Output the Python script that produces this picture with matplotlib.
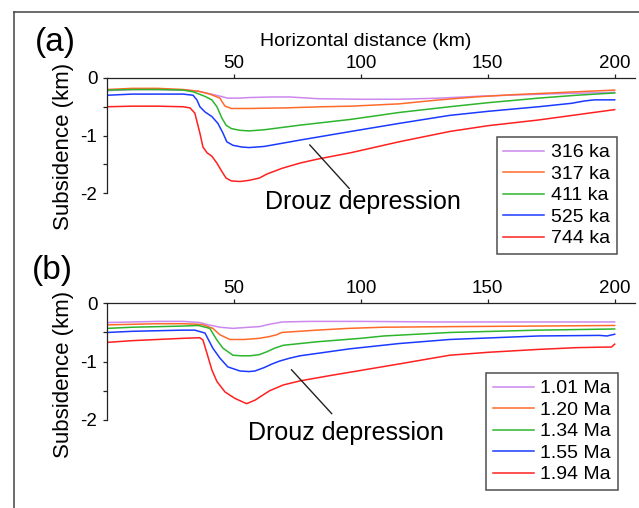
import matplotlib
matplotlib.use("Agg")
import matplotlib.pyplot as plt
from matplotlib.lines import Line2D

plt.rcParams["font.family"] = ["Liberation Sans", "DejaVu Sans"]

# ---- panel (a): subsidence profiles (km) ----
labels_a = ["316 ka", "317 ka", "411 ka", "525 ka", "744 ka"]

a316_x = [0, 10, 20, 30, 36, 40, 44, 47.5, 52, 56, 65, 72, 83, 100, 115, 131, 150, 165, 180, 200]
a316_y = [-0.22, -0.2, -0.2, -0.21, -0.23, -0.27, -0.31, -0.35, -0.35, -0.34, -0.33, -0.33, -0.36, -0.37,
          -0.37, -0.35, -0.31, -0.29, -0.27, -0.25]

a317_x = [0, 10, 20, 30, 36, 40.5, 44.5, 45.3, 46.5, 49, 56, 70, 85, 96, 115, 131, 145, 160, 175, 190, 200]
a317_y = [-0.2, -0.18, -0.18, -0.2, -0.23, -0.28, -0.35, -0.41, -0.49, -0.53, -0.53, -0.52, -0.5, -0.49,
          -0.45, -0.38, -0.33, -0.29, -0.26, -0.23, -0.21]

a411_x = [0, 10, 20, 30, 34, 38.6, 41.3, 43.3, 45.3, 46.9, 49, 52.4, 56, 62, 76, 96, 115, 135, 150, 170,
          185, 200]
a411_y = [-0.21, -0.2, -0.2, -0.21, -0.24, -0.32, -0.38, -0.5, -0.7, -0.82, -0.88, -0.91, -0.92, -0.9,
          -0.82, -0.72, -0.6, -0.5, -0.43, -0.35, -0.3, -0.26]

a525_x = [0, 10, 20, 30, 33.9, 35.4, 36.6, 38.6, 41.3, 43.7, 45.7, 47.2, 49.6, 53, 56, 62, 76, 96, 115,
          135, 150, 170, 183, 188, 192, 200]
a525_y = [-0.3, -0.28, -0.28, -0.28, -0.3, -0.38, -0.5, -0.59, -0.67, -0.79, -0.96, -1.11, -1.17, -1.2,
          -1.21, -1.19, -1.08, -0.93, -0.79, -0.65, -0.58, -0.5, -0.44, -0.4, -0.38, -0.38]

a744_x = [0, 10, 20, 30, 32.7, 34.6, 36.6, 37.8, 39.4, 41.3, 43.3, 45.3, 46.9, 49, 52.4, 56, 60, 63, 69,
          76, 83, 96, 115, 135, 150, 170, 190, 200]
a744_y = [-0.5, -0.49, -0.49, -0.5, -0.52, -0.61, -0.96, -1.2, -1.3, -1.36, -1.48, -1.63, -1.74, -1.79,
          -1.8, -1.78, -1.74, -1.67, -1.57, -1.48, -1.41, -1.3, -1.11, -0.93, -0.83, -0.73, -0.61, -0.55]

# ---- panel (b) ----
labels_b = ["1.01 Ma", "1.20 Ma", "1.34 Ma", "1.55 Ma", "1.94 Ma"]

b101_x = [0, 10, 20, 30, 36.6, 40, 44.5, 49.6, 56, 60, 64, 69, 80, 100, 130, 160, 200]
b101_y = [-0.33, -0.32, -0.31, -0.31, -0.33, -0.37, -0.41, -0.43, -0.41, -0.4, -0.36, -0.32, -0.31,
          -0.31, -0.32, -0.32, -0.32]

b120_x = [0, 10, 20, 30, 36, 38, 41.7, 44.5, 48.4, 54, 60, 64, 66.8, 68.8, 82.6, 95, 108.8, 135, 170, 200]
b120_y = [-0.37, -0.36, -0.35, -0.35, -0.36, -0.37, -0.43, -0.54, -0.62, -0.62, -0.6, -0.57, -0.54, -0.5,
          -0.46, -0.43, -0.41, -0.4, -0.39, -0.38]

b134_x = [0, 10, 20, 30, 36, 40.5, 43.3, 45.7, 49.6, 53, 56.3, 60, 63, 66, 69.4, 76, 82.6, 100, 109,
          135, 170, 200]
b134_y = [-0.43, -0.41, -0.4, -0.39, -0.38, -0.43, -0.63, -0.77, -0.89, -0.9, -0.9, -0.88, -0.83, -0.77,
          -0.72, -0.69, -0.66, -0.6, -0.56, -0.5, -0.46, -0.44]

b155_x = [0, 10, 20, 30, 34.6, 38.6, 41.7, 44.5, 47.6, 52.4, 56, 58.3, 62, 65, 68, 72, 76, 95.7, 115,
          135, 170, 194, 197, 200]
b155_y = [-0.5, -0.48, -0.47, -0.46, -0.46, -0.51, -0.77, -0.94, -1.09, -1.16, -1.17, -1.16, -1.1, -1.04,
          -0.99, -0.94, -0.9, -0.78, -0.69, -0.62, -0.56, -0.55, -0.56, -0.53]

b194_x = [0, 10, 20, 30, 36.6, 37.8, 39.4, 41.3, 43.3, 46.5, 50.4, 55, 58.3, 61.5, 64, 69.4, 76, 89, 100,
          115, 135, 150, 170, 185, 196.7, 198.7, 200]
b194_y = [-0.67, -0.64, -0.62, -0.6, -0.59, -0.63, -0.86, -1.14, -1.34, -1.52, -1.63, -1.72, -1.66, -1.57,
          -1.5, -1.4, -1.33, -1.23, -1.15, -1.04, -0.89, -0.84, -0.79, -0.76, -0.75, -0.75, -0.7]

colors = ["#cc88ee", "#ff6a2a", "#2db52d", "#1a3aff", "#ff2020"]

W, H = 639, 508
fig = plt.figure(figsize=(W / 100, H / 100), dpi=100)


def px_axes(left, top, right, bottom):
    return fig.add_axes([left / W, 1 - bottom / H, (right - left) / W, (bottom - top) / H])


def style_axes(ax):
    ax.set_xlim(0, 208)
    ax.set_ylim(-2, 0)
    ax.spines["bottom"].set_visible(False)
    ax.spines["right"].set_visible(False)
    for s in ("top", "left"):
        ax.spines[s].set_linewidth(0.9)
        ax.spines[s].set_color("#222222")
    ax.xaxis.tick_top()
    ax.set_xticks([50, 100, 150, 200])
    ax.set_xticklabels(["50", "100", "150", "200"])
    ax.set_yticks([0, -0.5, -1, -1.5, -2])
    ax.set_yticklabels(["0", "", "-1", "", "-2"])
    ax.tick_params(axis="x", direction="out", length=3, width=0.9, labelsize=13.5, pad=1.5,
                   color="#222222")
    ax.tick_params(axis="y", direction="out", length=3, width=0.9, labelsize=13.5, pad=4,
                   color="#222222")
    ax.patch.set_alpha(0)


ax_a = px_axes(107, 78, 635, 193)
style_axes(ax_a)
series_a = [(a316_x, a316_y), (a317_x, a317_y), (a411_x, a411_y), (a525_x, a525_y), (a744_x, a744_y)]
for (xs, ys), c, lab in zip(series_a, colors, labels_a):
    ax_a.plot(xs, ys, color=c, lw=1.1, label=lab)

ax_b = px_axes(107, 303.3, 635, 420)
style_axes(ax_b)
series_b = [(b101_x, b101_y), (b120_x, b120_y), (b134_x, b134_y), (b155_x, b155_y), (b194_x, b194_y)]
for (xs, ys), c, lab in zip(series_b, colors, labels_b):
    ax_b.plot(xs, ys, color=c, lw=1.1, label=lab)

# legends
leg_kw = dict(loc="upper right", bbox_transform=fig.transFigure, borderaxespad=0,
              fontsize=14, frameon=True, fancybox=False, handlelength=2.1,
              handletextpad=0.35, labelspacing=0.2, borderpad=0.35)
leg_a = ax_a.legend(bbox_to_anchor=(617 / W, 1 - 137 / H), **leg_kw)
leg_b = ax_b.legend(bbox_to_anchor=(618 / W, 1 - 373 / H), **leg_kw)
for leg in (leg_a, leg_b):
    leg.get_frame().set_edgecolor("#222222")
    leg.get_frame().set_linewidth(1.1)

# annotations
ax_a.plot([79.9, 95.4], [-1.165, -1.92], color="#222222", lw=1.0, clip_on=False)
fig.text(265 / W, 1 - 201.7 / H, "Drouz depression", fontsize=18, ha="left", va="center")
ax_b.plot([72.7, 88.5], [-1.14, -1.89], color="#222222", lw=1.0, clip_on=False)
fig.text(248 / W, 1 - 432.7 / H, "Drouz depression", fontsize=18, ha="left", va="center")

# axis labels and panel letters
fig.text(365.8 / W, 1 - 41.5 / H, "Horizontal distance (km)", fontsize=14, ha="center", va="center")
fig.text(63.5 / W, 1 - 146 / H, "Subsidence (km)", fontsize=16, rotation=90, ha="center", va="center")
fig.text(63.5 / W, 1 - 374 / H, "Subsidence (km)", fontsize=16, rotation=90, ha="center", va="center")
fig.text(55 / W, 1 - 43 / H, "(a)", fontsize=24, ha="center", va="center")
fig.text(52 / W, 1 - 271 / H, "(b)", fontsize=24, ha="center", va="center")

# outer frame (top and left edges visible)
fig.add_artist(Line2D([14 / W, 14 / W], [0, 1 - 12 / H], transform=fig.transFigure,
                      color="#444444", lw=1.1))
fig.add_artist(Line2D([14 / W, 1], [1 - 12 / H, 1 - 12 / H], transform=fig.transFigure,
                      color="#444444", lw=1.1))

fig.savefig("out.png", dpi=100)
